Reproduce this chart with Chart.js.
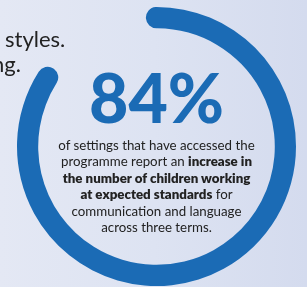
<!DOCTYPE html>
<html>
<head>
<meta charset="utf-8">
<script src="https://cdn.jsdelivr.net/npm/chart.js@4"></script>
<style>
  html, body { margin: 0; padding: 0; }
  body {
    width: 307px; height: 287px; overflow: hidden; position: relative;
    background: linear-gradient(90deg, #e4e8f4 0%, #dde3f2 50%, #d4dbee 100%);
    font-family: Lato, "Open Sans", sans-serif; color: #222;
  }
  #wrap { position: absolute; left: 0; top: 0; width: 307px; height: 287px; }
  .t { position: absolute; white-space: nowrap; }
  #p1 { left: 5px; top: 26px; font-size: 22px; line-height: 26px; }
  #p2 { left: -8px; top: 51px; font-size: 22px; line-height: 26px; }
  #big { left: 0; width: 313px; text-align: center; top: 63px; font-size: 68px; line-height: 68px; font-weight: 900; color: #1b6bb5; }
  #body { left: 0; width: 313px; text-align: center; top: 137px; font-size: 13.3px; line-height: 16.4px; color: #222; }
  #body b { font-weight: 800; }
</style>
</head>
<body>
<div id="wrap"><canvas id="c" width="307" height="287"></canvas></div>
<div class="t" id="p1">styles.</div>
<div class="t" id="p2">ng.</div>
<div class="t" id="big"></div>
<div class="t" id="body">of settings that have accessed the<br>programme report an <b>increase in<br>the number of children working<br>at expected standards</b> for<br>communication and language<br>across three terms.</div>
<script>
const categories = ["Reported increase", "Other"];
const values = [84, 16];
const headline = "84%";

document.getElementById("big").textContent = headline;

// round caps extend past the arc ends, as in a stroked ring
const capDeg = 4.71;
const arcDeg = 360 * values[0] / (values[0] + values[1]) + 2 * capDeg;
const totalDeg = arcDeg * (values[0] + values[1]) / values[0];

new Chart(document.getElementById("c"), {
  type: "doughnut",
  data: {
    labels: categories,
    datasets: [{
      data: values,
      backgroundColor: ["#1b6bb5", "rgba(0,0,0,0)"],
      borderWidth: 0,
      borderRadius: [11, 0],
      hoverOffset: 0
    }]
  },
  options: {
    responsive: false,
    animation: false,
    cutout: "84.8%",
    rotation: -capDeg,
    circumference: totalDeg,
    layout: { padding: { left: 17, right: 11, top: 7, bottom: 1 } },
    plugins: { legend: { display: false }, tooltip: { enabled: false } },
    events: []
  }
});
</script>
</body>
</html>
